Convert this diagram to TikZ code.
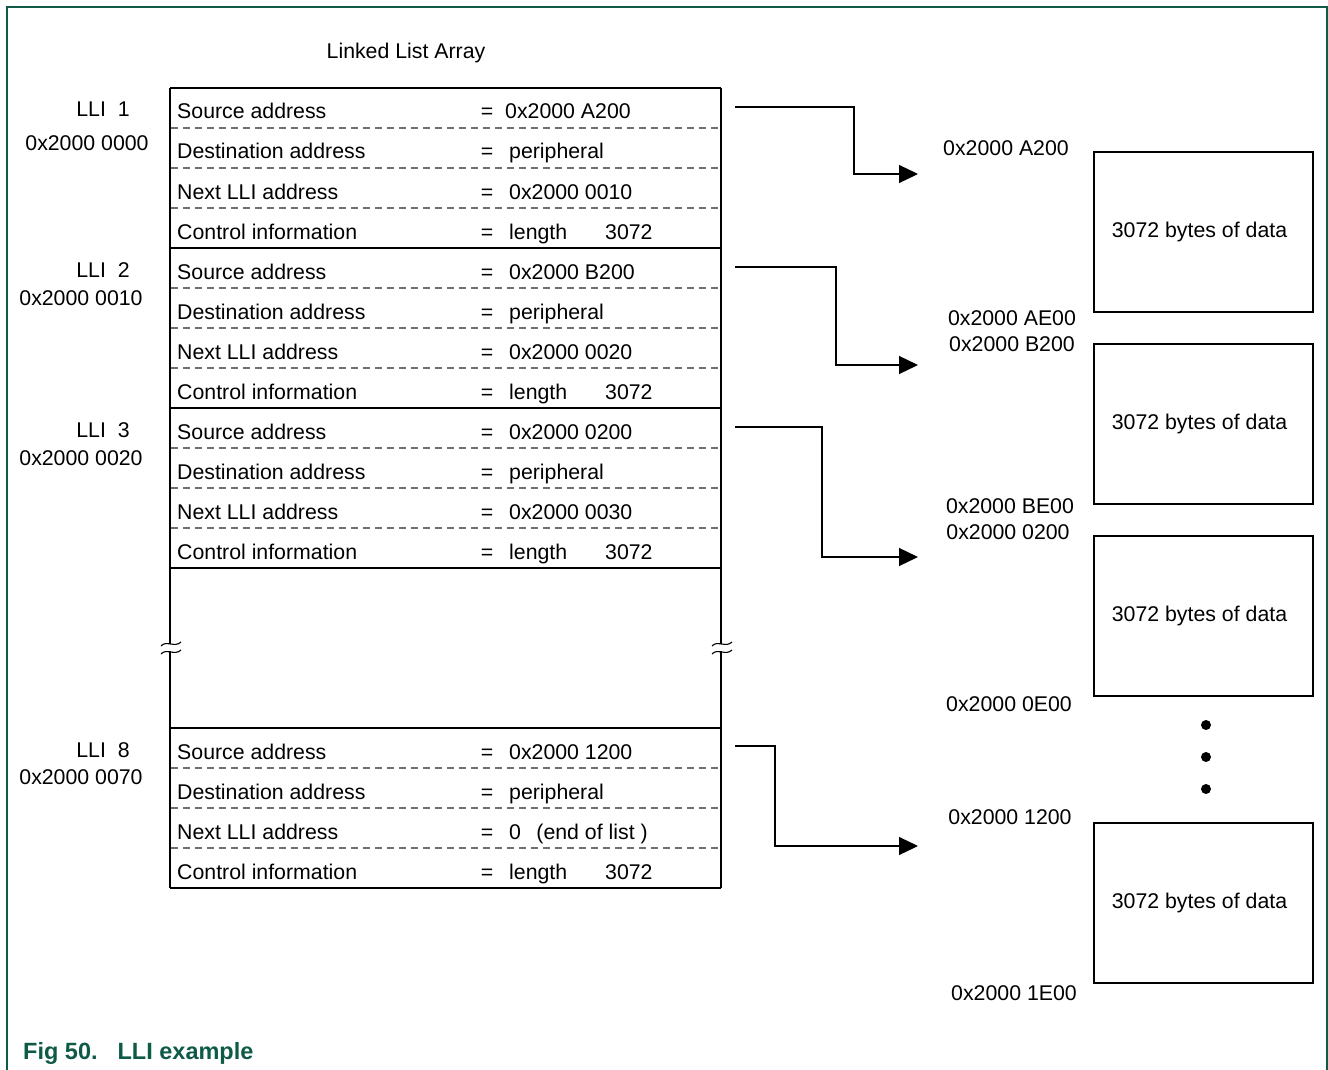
\documentclass[tikz,border=0pt]{standalone}
\usepackage{fontspec}
\setmainfont{Liberation Sans}
\usetikzlibrary{arrows.meta}
\definecolor{nxpgreen}{HTML}{0E5A47}
\definecolor{dashgray}{HTML}{707070}
\begin{document}
\begin{tikzpicture}[x=1pt,y=-1pt,
  font=\fontsize{21.3}{25}\selectfont,
  lbl/.style={inner sep=0pt, anchor=base west},
  ctr/.style={inner sep=0pt, anchor=base},
  outer/.style={line width=1.8pt, black},
  sep/.style={dashgray, line width=1.1pt, dash pattern=on 7pt off 5pt},
  conn/.style={line width=1.2pt, -{Triangle[length=19pt,width=18pt]}},
  databox/.style={draw, line width=1.8pt, minimum width=219pt, minimum height=160pt, inner sep=0pt},
  brk/.pic={\draw[line width=1.1pt] (-10,2) .. controls (-5,-4) and (4,4) .. (10,-2);},
  dot/.style={circle, fill=black, inner sep=0pt, minimum size=10pt}]
\useasboundingbox (0,0) rectangle (1328,1070);
% frame
\draw[nxpgreen, line width=1.5pt] (7,1070) -- (7,7) -- (1327,7) -- (1327,1070);
\node[lbl, nxpgreen, font=\fontsize{23.5}{27}\selectfont\bfseries] (cap) at (23,1059) {Fig 50.\hspace{20pt}LLI example};
% title
\node[ctr] (title) at (406,59) {Linked List Array};
% table outline
\draw[outer] (170,88) -- (721,88);
\foreach \yy in {248,408,568,728,888} \draw[outer] (170,\yy) -- (721,\yy);
\draw[outer] (170,88) -- (170,644) (170,651) -- (170,888);
\draw[outer] (721,88) -- (721,644) (721,651) -- (721,888);
\pic at (171,644) {brk};
\pic at (171,652) {brk};
\pic at (722,644) {brk};
\pic at (722,652) {brk};
% dashed separators
\foreach \t in {88,248,408,728}{
  \foreach \k in {40,80,120} \draw[sep] (171,\t+\k) -- (720,\t+\k);
}
% rows
\foreach \t/\n/\src/\sx/\nxt/\nm in {
  88/1/{0x2000 A200}/505/{0x2000 0010}/a,
  248/2/{0x2000 B200}/509/{0x2000 0020}/b,
  408/3/{0x2000 0200}/509/{0x2000 0030}/c,
  728/8/{0x2000 1200}/509/{0 \ \,(end of list )}/d}{
  \node[lbl] (\nm r1) at (177,\t+31) {Source address};
  \node[lbl] (\nm r2) at (177,\t+71) {Destination address};
  \node[lbl] (\nm r3) at (177,\t+111) {Next LLI address};
  \node[lbl] (\nm r4) at (177,\t+151) {Control information};
  \foreach \k in {1,2,3,4} \node[ctr] (\nm e\k) at (487,\t+40*\k-9) {=};
  \node[lbl] (\nm v1) at (\sx,\t+31) {\src};
  \node[lbl] (\nm v2) at (509,\t+71) {peripheral};
  \node[lbl] (\nm v3) at (509,\t+111) {\nxt};
  \node[lbl] (\nm v4) at (509,\t+151) {length};
  \node[lbl] (\nm v5) at (605,\t+151) {3072};
  \node[ctr] (\nm lli) at (103,\t+29) {LLI\ \ \n};
}
\node[ctr] (aadr) at (87,151) {0x2000 0000};
\node[ctr] (badr) at (81,305) {0x2000 0010};
\node[ctr] (cadr) at (81,465) {0x2000 0020};
\node[ctr] (dadr) at (81,784) {0x2000 0070};
% data boxes
\foreach \i/\yy in {1/232,2/424,3/616,4/903}
  \node[databox, execute at begin node={\hspace*{-8pt}}] (d\i) at (1203.5,\yy) {3072 bytes of data};
% address labels
\node[ctr] (m1) at (1006,156) {0x2000 A200};
\node[ctr] (m2) at (1012,325) {0x2000 AE00};
\node[ctr] (m3) at (1012,351) {0x2000 B200};
\node[ctr] (m4) at (1010,513) {0x2000 BE00};
\node[ctr] (m5) at (1008,539) {0x2000 0200};
\node[ctr] (m6) at (1009,711) {0x2000 0E00};
\node[ctr] (m7) at (1010,824) {0x2000 1200};
\node[ctr] (m8) at (1014,1000) {0x2000 1E00};
% dots
\node[dot] (dt1) at (1206,725) {};
\node[dot] (dt2) at (1206,757) {};
\node[dot] (dt3) at (1206,789) {};
% connectors
\coordinate (s1) at (735,107); \coordinate (e1) at (918,174);
\coordinate (s2) at (735,267); \coordinate (e2) at (918,365);
\coordinate (s3) at (735,427); \coordinate (e3) at (918,557);
\coordinate (s4) at (735,746); \coordinate (e4) at (918,846);
\draw[conn] (s1) -- (854,107) |- (e1);
\draw[conn] (s2) -- (836,267) |- (e2);
\draw[conn] (s3) -- (822,427) |- (e3);
\draw[conn] (s4) -- (775,746) |- (e4);
\end{tikzpicture}
\end{document}
